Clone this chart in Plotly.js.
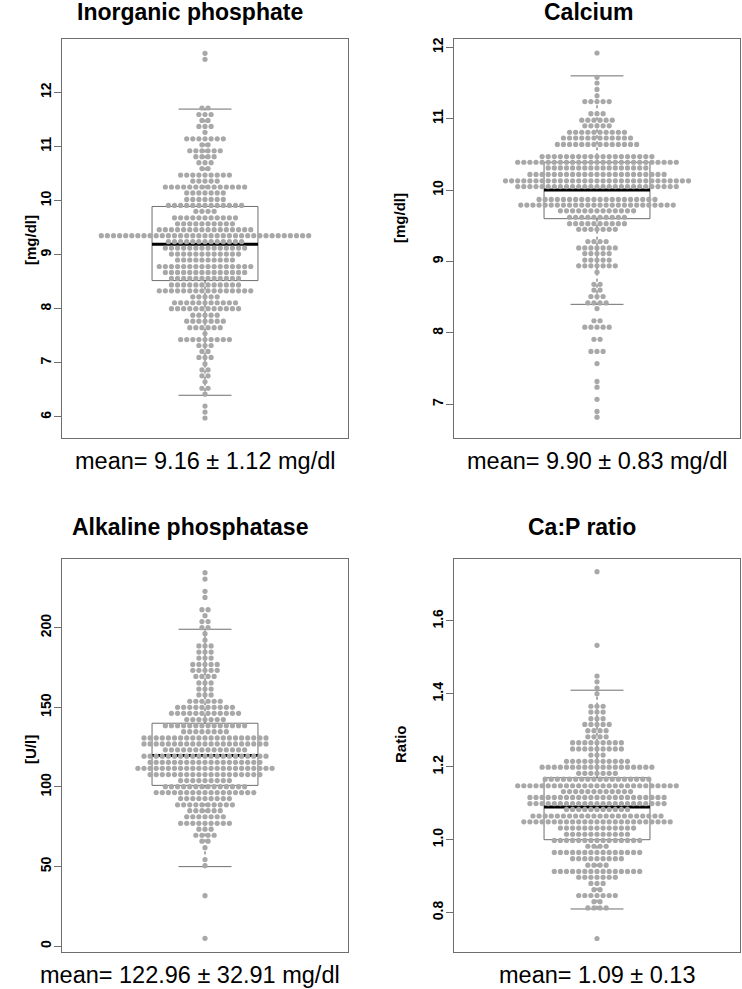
<!DOCTYPE html>
<html>
<head>
<meta charset="utf-8">
<script src="https://cdn.plot.ly/plotly-3.0.1.min.js"></script>
<style>html,body{margin:0;padding:0;background:#fff;}#chart{width:742px;height:989px;}</style>
</head>
<body>
<div id="chart"></div>
<script>
// ---------- DATA (beeswarm rows: binned value + number of dots) ----------
const titles = ["Inorganic phosphate", "Calcium", "Alkaline phosphatase", "Ca:P ratio"];
const yLabels = ["[mg/dl]", "[mg/dl]", "[U/l]", "Ratio"];
const meanTexts = ["mean= 9.16 \u00b1 1.12 mg/dl", "mean= 9.90 \u00b1 0.83 mg/dl",
                   "mean= 122.96 \u00b1 32.91 mg/dl", "mean= 1.09 \u00b1 0.13"];

const phosVals = [12.72, 12.61, 11.71, 11.59, 11.48, 11.37, 11.26, 11.14, 11.03, 10.92, 10.81, 10.70, 10.59, 10.47, 10.36, 10.25, 10.14, 10.02, 9.91, 9.80, 9.68, 9.57, 9.46, 9.35, 9.24, 9.12, 9.01, 8.90, 8.78, 8.67, 8.56, 8.44, 8.33, 8.22, 8.11, 8.00, 7.88, 7.77, 7.65, 7.54, 7.43, 7.32, 7.21, 7.10, 6.98, 6.87, 6.76, 6.65, 6.53, 6.42, 6.20, 6.09, 5.98];
const phosCounts = [1, 1, 2, 3, 2, 3, 1, 7, 2, 6, 4, 3, 2, 9, 5, 14, 7, 7, 13, 4, 11, 10, 16, 35, 13, 14, 12, 10, 16, 14, 12, 12, 16, 5, 11, 12, 5, 7, 6, 1, 9, 3, 2, 3, 1, 2, 2, 1, 2, 1, 1, 1, 1];
const phosStats = [6.40, 8.52, 9.19, 9.89, 11.69]; // lower whisker, Q1, median, Q3, upper whisker

const caVals = [11.92, 11.58, 11.50, 11.41, 11.32, 11.24, 11.07, 10.98, 10.90, 10.81, 10.73, 10.64, 10.47, 10.39, 10.31, 10.22, 10.13, 10.05, 9.87, 9.79, 9.71, 9.62, 9.53, 9.45, 9.28, 9.19, 9.11, 9.02, 8.94, 8.85, 8.68, 8.60, 8.51, 8.42, 8.34, 8.17, 8.08, 7.91, 7.74, 7.57, 7.32, 7.24, 7.07, 6.90, 6.82];
const caCounts = [1, 1, 1, 1, 1, 5, 3, 6, 5, 10, 12, 14, 19, 27, 17, 23, 31, 27, 20, 26, 13, 10, 10, 7, 4, 7, 5, 5, 7, 1, 2, 2, 3, 4, 1, 2, 5, 2, 3, 1, 1, 1, 1, 1, 1];
const caStats = [8.40, 9.60, 10.00, 10.39, 11.60];

const alpVals = [234.5, 230.5, 222.8, 219.0, 211.3, 207.5, 203.8, 200.0, 196.2, 192.2, 188.5, 184.7, 180.9, 176.9, 173.2, 169.4, 165.3, 161.5, 157.8, 153.8, 150.0, 146.2, 142.3, 138.5, 134.7, 130.8, 127.0, 123.3, 119.3, 115.5, 111.7, 107.8, 104.0, 100.2, 96.5, 92.7, 88.8, 85.1, 81.3, 77.2, 73.5, 69.7, 66.0, 61.9, 54.4, 50.6, 31.8, 5.0];
const alpCounts = [1, 1, 1, 1, 2, 1, 2, 2, 1, 1, 3, 3, 3, 5, 5, 4, 3, 3, 3, 6, 10, 12, 7, 14, 8, 21, 21, 14, 21, 19, 23, 19, 9, 14, 17, 9, 10, 6, 7, 9, 3, 4, 2, 1, 1, 1, 1, 1];
const alpStats = [50.0, 101.0, 119.7, 140.0, 199.0];

const ratioVals = [1.735, 1.533, 1.449, 1.433, 1.416, 1.400, 1.366, 1.350, 1.332, 1.316, 1.299, 1.282, 1.266, 1.249, 1.232, 1.215, 1.199, 1.182, 1.166, 1.148, 1.132, 1.116, 1.099, 1.083, 1.065, 1.049, 1.032, 1.015, 0.998, 0.982, 0.965, 0.948, 0.930, 0.913, 0.897, 0.880, 0.863, 0.847, 0.830, 0.813, 0.729];
const ratioCounts = [1, 1, 1, 1, 1, 1, 3, 3, 3, 5, 4, 4, 9, 9, 3, 11, 19, 7, 18, 27, 12, 23, 23, 11, 22, 25, 13, 11, 15, 4, 15, 9, 4, 15, 7, 3, 2, 7, 2, 4, 1];
const ratioStats = [0.81, 1.00, 1.09, 1.17, 1.41];

const phosTicks = [6, 7, 8, 9, 10, 11, 12];
const caTicks = [7, 8, 9, 10, 11, 12];
const alpTicks = [0, 50, 100, 150, 200];
const ratioTicks = [0.8, 1.0, 1.2, 1.4, 1.6];
const ratioTickText = ["0.8", "1.0", "1.2", "1.4", "1.6"];

// ---------- LAYOUT HELPERS ----------
const W = 742, H = 989;
const panels = [
  {vals: phosVals, counts: phosCounts, stats: phosStats, ticks: phosTicks, tickText: phosTicks.map(String), range: [5.61, 12.98], px: [62, 348], py: [39.3, 438], label: [30, 240], mean: [205, 461], title: [190, 12]},
  {vals: caVals, counts: caCounts, stats: caStats, ticks: caTicks, tickText: caTicks.map(String), range: [6.528, 12.112], px: [454, 740], py: [39.3, 438], label: [400, 218], mean: [597, 461], title: [588, 12]},
  {vals: alpVals, counts: alpCounts, stats: alpStats, ticks: alpTicks, tickText: alpTicks.map(String), range: [-3.58, 242.9], px: [62, 348], py: [559.3, 952], label: [30, 749], mean: [190, 975], title: [190, 527]},
  {vals: ratioVals, counts: ratioCounts, stats: ratioStats, ticks: ratioTicks, tickText: ratioTickText, range: [0.692, 1.769], px: [454, 740], py: [559.3, 952], label: [400, 744], mean: [597, 975], title: [582, 527]}
];
const XR = [-0.54, 0.54];
const BOXW = 0.2;        // half width of box
const STAPLE = 0.1;      // half width of whisker staples
const DOTPX = 6.1;       // horizontal dot spacing in pixels

const traces = [];
const layout = {
  width: W, height: H, margin: {l: 0, r: 0, t: 0, b: 0},
  paper_bgcolor: "#fff", plot_bgcolor: "#fff", showlegend: false,
  font: {family: "Liberation Sans, Arial, sans-serif", color: "#000"},
  annotations: []
};

panels.forEach((p, k) => {
  const ax = k === 0 ? "" : String(k + 1);
  const xa = "x" + ax, ya = "y" + ax;
  const pxPerUnit = (p.px[1] - p.px[0]) / (XR[1] - XR[0]);
  const dx = DOTPX / pxPerUnit;
  const [lw, q1, med, q3, uw] = p.stats;
  const lineStyle = {color: "#6e6e6e", width: 1};
  traces.push({type: "scatter", mode: "lines", xaxis: xa, yaxis: ya, hoverinfo: "skip",
    x: [-BOXW, BOXW, BOXW, -BOXW, -BOXW], y: [q1, q1, q3, q3, q1], line: lineStyle});
  traces.push({type: "scatter", mode: "lines", xaxis: xa, yaxis: ya, hoverinfo: "skip",
    x: [0, 0, null, 0, 0], y: [q3, uw, null, q1, lw], line: {color: "#555", width: 1, dash: "3px,3px"}});
  traces.push({type: "scatter", mode: "lines", xaxis: xa, yaxis: ya, hoverinfo: "skip",
    x: [-STAPLE, STAPLE, null, -STAPLE, STAPLE], y: [uw, uw, null, lw, lw], line: lineStyle});
  traces.push({type: "scatter", mode: "lines", xaxis: xa, yaxis: ya, hoverinfo: "skip",
    x: [-BOXW, BOXW], y: [med, med], line: {color: "#000", width: 3}});
  const xs = [], ys = [];
  p.vals.forEach((v, i) => {
    const n = p.counts[i];
    for (let j = 0; j < n; j++) { xs.push((j - (n - 1) / 2) * dx); ys.push(v); }
  });
  traces.push({type: "scatter", mode: "markers", xaxis: xa, yaxis: ya, x: xs, y: ys,
    marker: {color: "#a8a8a8", size: 5.2, line: {width: 0}}});

  layout["xaxis" + ax] = {domain: [p.px[0] / W, p.px[1] / W], range: XR, anchor: ya,
    showgrid: false, zeroline: false, showticklabels: false, ticks: "",
    showline: true, mirror: true, linecolor: "#6e6e6e", linewidth: 1, fixedrange: true};
  layout["yaxis" + ax] = {domain: [1 - p.py[1] / H, 1 - p.py[0] / H], range: p.range, anchor: xa,
    showgrid: false, zeroline: false, showline: true, mirror: true, linecolor: "#6e6e6e", linewidth: 1,
    ticks: "outside", ticklen: 7, tickcolor: "#6e6e6e", tickwidth: 1,
    tickvals: p.ticks, ticktext: p.tickText, tickangle: -90, ticklabelstandoff: -3,
    tickfont: {family: "Liberation Sans, Arial, sans-serif", size: 14, weight: "bold", color: "#000"},
    fixedrange: true};

  layout.annotations.push(
    {text: "<b>" + titles[k] + "</b>", xref: "paper", yref: "paper", x: p.title[0] / W, y: 1 - p.title[1] / H,
     xanchor: "center", yanchor: "middle", showarrow: false, font: {size: 23, color: "#000"}},
    {text: "<b>" + yLabels[k] + "</b>", xref: "paper", yref: "paper", x: p.label[0] / W, y: 1 - p.label[1] / H,
     xanchor: "center", yanchor: "middle", textangle: -90, showarrow: false, font: {size: 15, color: "#000"}},
    {text: meanTexts[k], xref: "paper", yref: "paper", x: p.mean[0] / W, y: 1 - p.mean[1] / H,
     xanchor: "center", yanchor: "middle", showarrow: false, font: {size: 23.5, color: "#000"}}
  );
});

Plotly.newPlot("chart", traces, layout, {displayModeBar: false, staticPlot: true});
</script>
</body>
</html>
